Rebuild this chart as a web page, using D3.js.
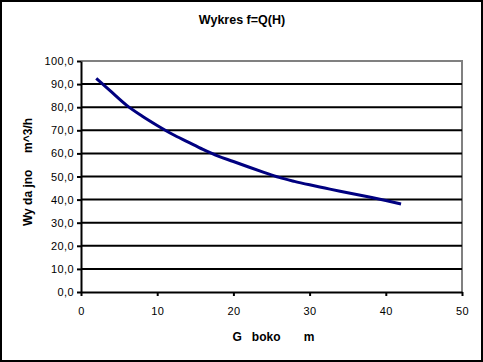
<!DOCTYPE html>
<html>
<head>
<meta charset="utf-8">
<script src="https://d3js.org/d3.v7.min.js"></script>
<style>
  body { margin: 0; background: #fff; }
  svg text { font-family: "Liberation Sans", Arial, sans-serif; }
</style>
</head>
<body>
<script>
    // depth H [m] and output Q [m^3/h]
    var depth = [2, 4, 6, 8, 10, 12, 14, 16, 18, 20, 22, 24, 26, 28, 30, 32, 34, 36, 38, 40, 42];
    var output = [92.5, 86.6, 80.8, 76.2, 72.1, 68.3, 65.0, 61.7, 58.8, 56.5, 54.1, 51.8, 49.6, 47.9, 46.4, 45.0, 43.6, 42.3, 41.0, 39.6, 38.1];
    var xTicks = [0, 10, 20, 30, 40, 50];
    var yTicks = [0, 10, 20, 30, 40, 50, 60, 70, 80, 90, 100];
    var title = "Wykres f=Q(H)";
    var xTitle = "G   boko       m";
    var yTitle = "Wy da jno     m^3/h";

    var W = 483, H = 362;
    var margin = { top: 61, right: 21, bottom: 70, left: 81 },
        width = W - margin.left - margin.right,
        height = H - margin.top - margin.bottom;

    var svg = d3.select('body').append('svg')
        .attr('width', W)
        .attr('height', H);

    svg.append('rect')
        .attr('x', 1).attr('y', 1)
        .attr('width', W - 2).attr('height', H - 2)
        .attr('fill', '#fff')
        .attr('stroke', '#000')
        .attr('stroke-width', 2);

    var g = svg.append('g').attr('transform', 'translate(' + margin.left + ',' + margin.top + ')');

    var x = d3.scaleLinear().domain([0, 50]).range([0, width]);
    var y = d3.scaleLinear().domain([0, 100]).range([height, 0]);

    // plot area frame (grey top and right)
    g.append('path')
        .attr('d', 'M0,0H' + width + 'V' + height)
        .attr('fill', 'none')
        .attr('stroke', '#808080')
        .attr('stroke-width', 2);

    // gridlines
    g.selectAll('.grid')
        .data(yTicks.filter(function (d) { return d > 0 && d < 100; }))
        .enter().append('line')
        .attr('x1', 0).attr('x2', width)
        .attr('y1', function (d) { return y(d); })
        .attr('y2', function (d) { return y(d); })
        .attr('stroke', '#000')
        .attr('stroke-width', 2);

    var fmt = function (d) { return d3.format('.1f')(d).replace('.', ','); };

    var yAxis = g.append('g')
        .call(d3.axisLeft(y).tickValues(yTicks).tickFormat(fmt).tickSize(4).tickSizeOuter(0).tickPadding(3));
    var xAxis = g.append('g')
        .attr('transform', 'translate(0,' + height + ')')
        .call(d3.axisBottom(x).tickValues(xTicks).tickSize(4).tickSizeOuter(0).tickPadding(11));

    [yAxis, xAxis].forEach(function (a) {
        a.select('.domain').attr('stroke', '#000').attr('stroke-width', 2);
        a.selectAll('.tick line').attr('stroke', '#000').attr('stroke-width', 2);
        a.selectAll('.tick text').attr('font-size', 11).attr('fill', '#000')
            .attr('letter-spacing', 0.4)
            .attr('font-family', '"Liberation Sans", Arial, sans-serif');
    });

    var line = d3.line()
        .x(function (d, i) { return x(depth[i]); })
        .y(function (d) { return y(d); })
        .curve(d3.curveMonotoneX);

    g.append('path')
        .datum(output)
        .attr('d', line)
        .attr('fill', 'none')
        .attr('stroke', '#000080')
        .attr('stroke-width', 3);

    svg.append('text')
        .text(title)
        .attr('x', 242).attr('y', 24)
        .attr('text-anchor', 'middle')
        .attr('font-size', 12.5).attr('font-weight', 'bold');

    svg.append('text')
        .text(xTitle)
        .attr('x', margin.left + width / 2 + 2).attr('y', 341)
        .attr('text-anchor', 'middle')
        .attr('font-size', 12).attr('font-weight', 'bold')
        .style('white-space', 'pre');

    svg.append('text')
        .text(yTitle)
        .attr('transform', 'translate(32,172) rotate(-90)')
        .attr('text-anchor', 'middle')
        .attr('font-size', 12).attr('font-weight', 'bold')
        .style('white-space', 'pre');
</script>
</body>
</html>
